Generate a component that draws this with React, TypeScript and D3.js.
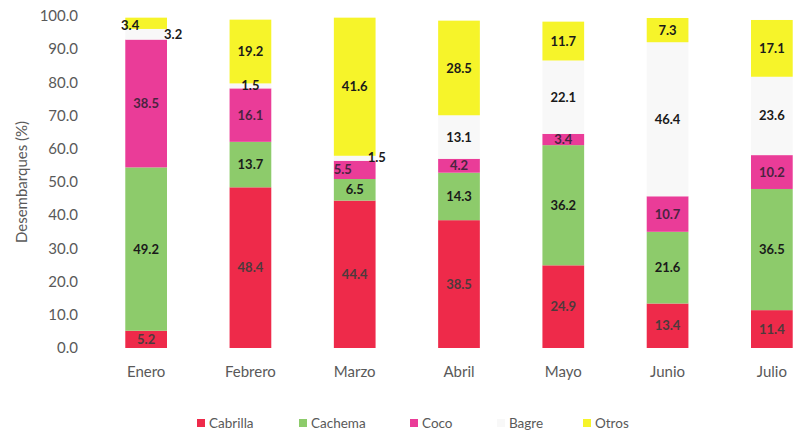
import * as d3 from 'd3';
import React, { useEffect, useRef } from 'react';

// datos de desembarques (%) por mes
const months = ['Enero', 'Febrero', 'Marzo', 'Abril', 'Mayo', 'Junio', 'Julio'];
const species = ['Cabrilla', 'Cachema', 'Coco', 'Bagre', 'Otros'];
const cabrilla = [5.2, 48.4, 44.4, 38.5, 24.9, 13.4, 11.4];
const cachema = [49.2, 13.7, 6.5, 14.3, 36.2, 21.6, 36.5];
const coco = [38.5, 16.1, 5.5, 4.2, 3.4, 10.7, 10.2];
const bagre = [3.2, 1.5, 1.5, 13.1, 22.1, 46.4, 23.6];
const otros = [3.4, 19.2, 41.6, 28.5, 11.7, 7.3, 17.1];
const yTicks = [0, 10, 20, 30, 40, 50, 60, 70, 80, 90, 100];

const colors = ['#EE2A4A', '#8DCB6B', '#EA3C98', '#F8F8F8', '#F6F42A'];
const labelColors = ['#4d3a3c', '#1a1a1a', '#4a2440', '#1a1a1a', '#1a1a1a'];
// small labels that Excel moved off the segment: key = month|species
const labelShift: Record<string, [number, number]> = {
    'Enero|Otros': [-16, 2],
    'Enero|Bagre': [27, 0],
    'Marzo|Bagre': [22, -1],
    'Marzo|Coco': [-12, 0],
};

const W = 798, H = 437;
const FONT = 'Lato, "Open Sans", sans-serif';

const App = () => {
    const ref = useRef<SVGSVGElement>(null);

    useEffect(() => {
        const svg = d3.select(ref.current);
        svg.selectAll('*').remove();

        const rows = months.map((m, i) => ({
            month: m,
            Cabrilla: cabrilla[i], Cachema: cachema[i], Coco: coco[i], Bagre: bagre[i], Otros: otros[i],
        }));
        const stack = d3.stack<any>().keys(species)(rows);

        const x = d3.scaleBand().domain(months).range([94, 824]).paddingInner(0.6).paddingOuter(0.3);
        const y = d3.scaleLinear().domain([0, 100]).range([348, 16]);

        // eje y
        svg.append('g').selectAll('text').data(yTicks).enter().append('text')
            .attr('x', 78).attr('y', d => y(d)).attr('dy', '0.35em')
            .attr('text-anchor', 'end')
            .attr('font-family', FONT).attr('font-size', 15).attr('fill', '#595959')
            .text(d => d3.format('.1f')(d));

        svg.append('text')
            .attr('transform', `translate(22,${(y(0) + y(100)) / 2}) rotate(-90)`)
            .attr('text-anchor', 'middle').attr('dy', '0.35em')
            .attr('font-family', FONT).attr('font-size', 15).attr('fill', '#595959')
            .text('Desembarques (%)');

        // eje x
        svg.append('g').selectAll('text').data(months).enter().append('text')
            .attr('x', d => x(d)! + x.bandwidth() / 2).attr('y', 372).attr('dy', '0.35em')
            .attr('text-anchor', 'middle')
            .attr('font-family', FONT).attr('font-size', 15).attr('fill', '#595959')
            .text(d => d);

        // barras apiladas
        const layers = svg.append('g').selectAll('g').data(stack).enter().append('g')
            .attr('fill', (d, i) => colors[i]);
        layers.selectAll('rect').data(d => d).enter().append('rect')
            .attr('x', d => x(d.data.month)!)
            .attr('width', x.bandwidth())
            .attr('y', d => y(d[1]))
            .attr('height', d => y(d[0]) - y(d[1]));

        // etiquetas
        stack.forEach((layer, si) => {
            svg.append('g').selectAll('text').data(layer).enter().append('text')
                .attr('x', d => {
                    const s = labelShift[d.data.month + '|' + species[si]];
                    return x(d.data.month)! + x.bandwidth() / 2 + (s ? s[0] : 0);
                })
                .attr('y', d => {
                    const s = labelShift[d.data.month + '|' + species[si]];
                    return y((d[0] + d[1]) / 2) + (s ? s[1] : 0);
                })
                .attr('dy', '0.35em').attr('text-anchor', 'middle')
                .attr('font-family', FONT).attr('font-size', 13).attr('font-weight', 'bold')
                .attr('fill', labelColors[si])
                .text(d => d3.format('.1f')(d[1] - d[0]));
        });

        // leyenda
        const legX = [197, 299, 410, 497, 583];
        const leg = svg.append('g').selectAll('g').data(species).enter().append('g')
            .attr('transform', (d, i) => `translate(${legX[i]},423)`);
        leg.append('rect').attr('x', 0).attr('y', -4).attr('width', 8).attr('height', 8)
            .attr('fill', (d, i) => colors[i]);
        leg.append('text').attr('x', 12).attr('dy', '0.35em')
            .attr('font-family', FONT).attr('font-size', 13.5).attr('fill', '#595959')
            .text(d => d);
    }, []);

    return (
        <svg ref={ref} width={W} height={H} style={{ position: 'absolute', left: 0, top: 0, background: '#fff' }}></svg>
    );
};

export default App;
